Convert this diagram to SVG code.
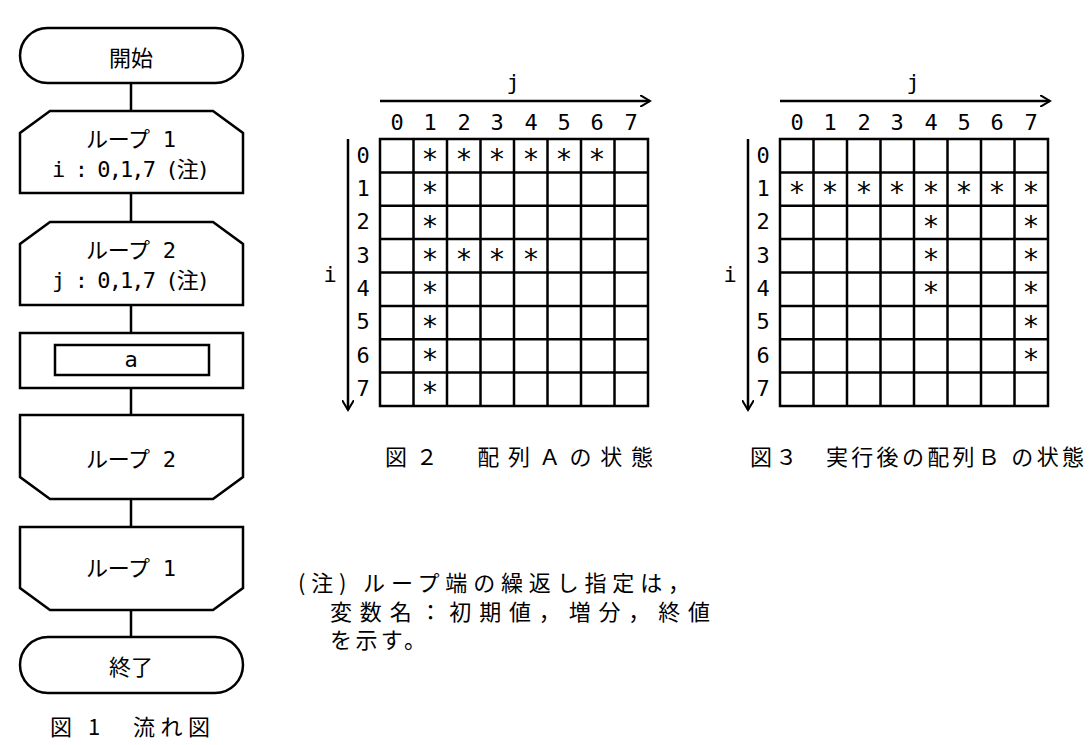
<svg xmlns="http://www.w3.org/2000/svg" width="1092" height="745" viewBox="0 0 1092 745">
<style>
.s{fill:#fff;stroke:#000;stroke-width:2.5}
.g{fill:none;stroke:#000;stroke-width:2.5}
.t{font-family:"DejaVu Sans Mono","Noto Sans CJK JP",monospace;font-size:22px;text-anchor:middle;dominant-baseline:central}
.j{font-family:"Noto Sans CJK JP",sans-serif;font-size:22px;dominant-baseline:central}
.a{font-family:"DejaVu Sans Mono",monospace;font-size:28px;text-anchor:middle;dominant-baseline:central}
</style>
<defs><marker id="ar" markerWidth="12" markerHeight="12" refX="10" refY="6" orient="auto" markerUnits="userSpaceOnUse"><path d="M0,0 L10,6 L0,12" fill="none" stroke="#000" stroke-width="2"/></marker></defs>
<g id="connectors" class="g">
<line x1="131" y1="83" x2="131" y2="111"/>
<line x1="131" y1="193" x2="131" y2="222"/>
<line x1="131" y1="305" x2="131" y2="333"/>
<line x1="131" y1="388" x2="131" y2="415"/>
<line x1="131" y1="499" x2="131" y2="527"/>
<line x1="131" y1="610" x2="131" y2="637"/>
</g>
<g id="start"><rect class="s" x="20" y="28" width="223" height="55" rx="27.5"/><text class="t j" x="131" y="56">開始</text></g>
<g id="loop1"><path class="s" d="M50,111 H213 L243,133 V193 H20 V133 Z"/><text class="t" x="131" y="139" textLength="90">ループ 1</text><text class="t" x="131" y="169" textLength="158">i : 0,1,7 (注)</text></g>
<g id="loop2"><path class="s" d="M50,222 H213 L243,244 V305 H20 V244 Z"/><text class="t" x="131" y="250" textLength="90">ループ 2</text><text class="t" x="131" y="280" textLength="158">j : 0,1,7 (注)</text></g>
<g id="proc"><rect class="s" x="20" y="333" width="223" height="55"/><rect class="s" x="55" y="345" width="154" height="30"/><text class="t" x="131" y="359">a</text></g>
<g id="loop2end"><path class="s" d="M20,415 H243 V477 L213,499 H50 L20,477 Z"/><text class="t" x="131" y="459" textLength="90">ループ 2</text></g>
<g id="loop1end"><path class="s" d="M20,527 H243 V588 L213,610 H50 L20,588 Z"/><text class="t" x="131" y="568" textLength="90">ループ 1</text></g>
<g id="end"><rect class="s" x="20" y="637" width="223" height="56" rx="28"/><text class="t j" x="131" y="665">終了</text></g>
<text class="j" x="50" y="725" font-size="24" textLength="160">図 1　流れ図</text>

<g id="gridA">
<text class="t" x="513" y="82">j</text>
<line class="g" x1="380" y1="101" x2="650" y2="101" marker-end="url(#ar)"/>
<line class="g" x1="348" y1="139" x2="348" y2="410" marker-end="url(#ar)"/>
<text class="t" x="330" y="274">i</text>
<g class="t"><text x="397" y="122">0</text><text x="430" y="122">1</text><text x="464" y="122">2</text><text x="497" y="122">3</text><text x="531" y="122">4</text><text x="564" y="122">5</text><text x="597" y="122">6</text><text x="631" y="122">7</text>
<text x="363" y="155">0</text><text x="363" y="188">1</text><text x="363" y="221">2</text><text x="363" y="255">3</text><text x="363" y="288">4</text><text x="363" y="321">5</text><text x="363" y="355">6</text><text x="363" y="388">7</text></g>
<path class="g" d="M380,139H648V406H380Z M413.5,139V406 M447,139V406 M480.5,139V406 M514,139V406 M547.5,139V406 M581,139V406 M614.5,139V406 M380,172.4H648 M380,205.8H648 M380,239.1H648 M380,272.5H648 M380,305.9H648 M380,339.3H648 M380,372.6H648"/>
<g class="a"><text x="430" y="159">*</text><text x="464" y="159">*</text><text x="497" y="159">*</text><text x="531" y="159">*</text><text x="564" y="159">*</text><text x="597" y="159">*</text>
<text x="430" y="192">*</text><text x="430" y="226">*</text><text x="430" y="259">*</text><text x="464" y="259">*</text><text x="497" y="259">*</text><text x="531" y="259">*</text>
<text x="430" y="292">*</text><text x="430" y="326">*</text><text x="430" y="359">*</text><text x="430" y="392">*</text></g>
</g>
<text class="j" x="385" y="455" font-size="25" textLength="268">図２　配列Ａの状態</text>

<g id="gridB">
<text class="t" x="913" y="82">j</text>
<line class="g" x1="780" y1="101" x2="1050" y2="101" marker-end="url(#ar)"/>
<line class="g" x1="748" y1="139" x2="748" y2="410" marker-end="url(#ar)"/>
<text class="t" x="730" y="274">i</text>
<g class="t"><text x="797" y="122">0</text><text x="830" y="122">1</text><text x="864" y="122">2</text><text x="897" y="122">3</text><text x="931" y="122">4</text><text x="964" y="122">5</text><text x="997" y="122">6</text><text x="1031" y="122">7</text>
<text x="763" y="155">0</text><text x="763" y="188">1</text><text x="763" y="221">2</text><text x="763" y="255">3</text><text x="763" y="288">4</text><text x="763" y="321">5</text><text x="763" y="355">6</text><text x="763" y="388">7</text></g>
<path class="g" d="M780,139H1048V406H780Z M813.5,139V406 M847,139V406 M880.5,139V406 M914,139V406 M947.5,139V406 M981,139V406 M1014.5,139V406 M780,172.4H1048 M780,205.8H1048 M780,239.1H1048 M780,272.5H1048 M780,305.9H1048 M780,339.3H1048 M780,372.6H1048"/>
<g class="a"><text x="797" y="192">*</text><text x="830" y="192">*</text><text x="864" y="192">*</text><text x="897" y="192">*</text><text x="931" y="192">*</text><text x="964" y="192">*</text><text x="997" y="192">*</text><text x="1031" y="192">*</text>
<text x="931" y="226">*</text><text x="931" y="259">*</text><text x="931" y="292">*</text>
<text x="1031" y="226">*</text><text x="1031" y="259">*</text><text x="1031" y="292">*</text><text x="1031" y="326">*</text><text x="1031" y="359">*</text></g>
</g>
<text class="j" x="750" y="455" font-size="25" textLength="334">図３　実行後の配列Ｂ の状態</text>

<g class="j" font-size="24"><text x="298" y="581" textLength="392">(注) ループ端の繰返し指定は，</text><text x="330" y="610" textLength="380">変数名：初期値，増分，終値</text><text x="330" y="638" textLength="96">を示す。</text></g>
</svg>
